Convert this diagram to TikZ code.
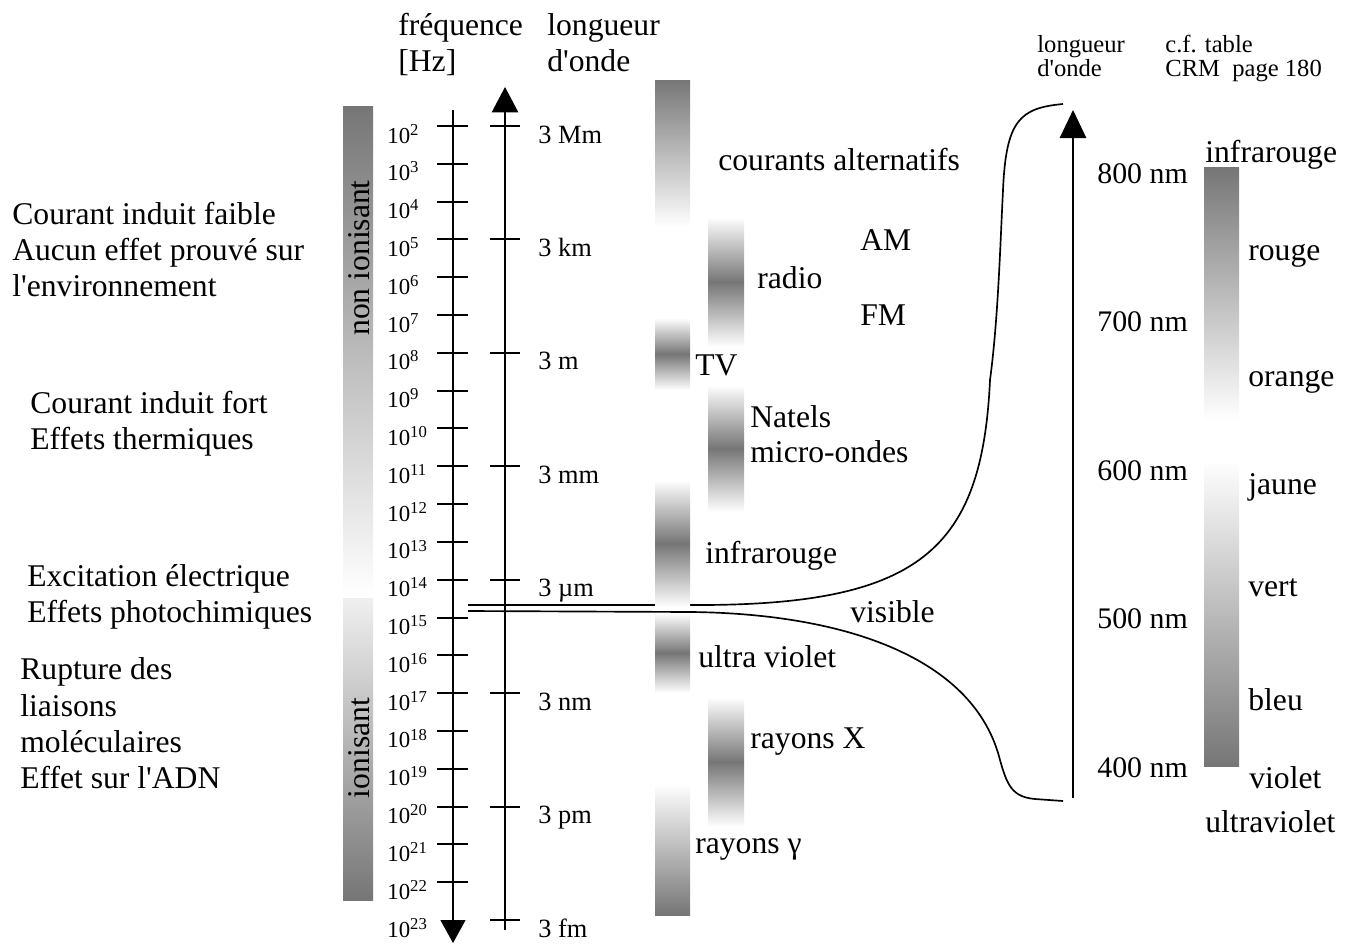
\documentclass[tikz,border=0pt]{standalone}
\usepackage{fontspec}
\setmainfont{Liberation Serif}
\newfontfamily\lib{Liberation Serif}
\usetikzlibrary{arrows.meta}
\definecolor{dk}{RGB}{118,118,118}
\newcommand\expo[1]{\raisebox{4.5pt}{\fontsize{9.5}{10}\selectfont #1}}
\begin{document}
\begin{tikzpicture}[x=0.02cm,y=-0.02cm,
  lbl/.style={font=\lib\fontsize{18}{20}\selectfont, anchor=base west, inner sep=0},
  sml/.style={font=\lib\fontsize{14}{15}\selectfont, anchor=base west, inner sep=0},
  exl/.style={font=\lib\fontsize{13}{14}\selectfont, anchor=base west, inner sep=0},
  wll/.style={font=\lib\fontsize{15}{16}\selectfont, anchor=base west, inner sep=0},
  nml/.style={font=\lib\fontsize{17}{18}\selectfont, anchor=base west, inner sep=0},
  axisline/.style={line width=1.15pt},
  curveline/.style={line width=0.95pt},
  band/.style={top color=white, bottom color=white, middle color=dk},
]
\useasboundingbox (0,0) rectangle (1354,943);

% ---- ionising bars (left)
\shade[top color=dk, bottom color=white] (343,106) rectangle (373,595);
\shade[top color=black!6, bottom color=dk] (343,598) rectangle (373,900);
\node[rotate=90, font=\lib\fontsize{18}{20}\selectfont, inner sep=0] (nonion) at (359,258) {non ionisant};
\node[rotate=90, font=\lib\fontsize{18}{20}\selectfont, inner sep=0] (ion) at (359,748) {ionisant};

% ---- headers
\node[lbl] (hfreq) at (398,35) {fréquence};
\node[lbl] (hhz) at (398,71) {[Hz]};
\node[lbl] (hlong) at (547,35) {longueur};
\node[lbl] (honde) at (547,71) {d'onde};

% ---- frequency axis
\draw[axisline,-{Triangle[length=13pt,width=14pt]}] (453,110) coordinate (ftop) -- (453,943) coordinate (fbot);
\foreach \n in {2,...,22} {
  \pgfmathsetmacro\yy{126+(\n-2)*37.81}
  \draw[axisline] (437,\yy) -- (468,\yy);
  \node[exl] (f\n) at (387,\yy+17) {10\expo{\n}};
}
\node[exl] (f23) at (387,937) {10\expo{23}};

% ---- wavelength axis
\draw[axisline,-{Triangle[length=14.5pt,width=15pt]}] (505,930) coordinate (wbot) -- (505,87) coordinate (wtop);
\foreach \n/\t in {2/3 Mm,5/3 km,8/3 m,11/3 mm,14/3 µm,17/3 nm,20/3 pm,23/3 fm} {
  \pgfmathsetmacro\yy{126+(\n-2)*37.81}
  \draw[axisline] (490,\yy) -- (520,\yy);
  \node[wll] (w\n) at (538,\yy+17) {\t};
}

% ---- left labels
\node[lbl] (l1) at (12,224) {Courant induit faible};
\node[lbl] (l2) at (12,260) {Aucun effet prouvé sur};
\node[lbl] (l3) at (12,296) {l'environnement};
\node[lbl] (l4) at (30,413) {Courant induit fort};
\node[lbl] (l5) at (30,449) {Effets thermiques};
\node[lbl] (l6) at (27,586) {Excitation électrique};
\node[lbl] (l7) at (27,622) {Effets photochimiques};
\node[lbl] (l8) at (20,679) {Rupture des};
\node[lbl] (l9) at (20,716) {liaisons};
\node[lbl] (l10) at (20,752) {moléculaires};
\node[lbl] (l11) at (20,788) {Effet sur l'ADN};

% ---- right axis
\coordinate (rtop) at (1063,104);
\coordinate (rbot) at (1063,801);
\draw[axisline,-{Triangle[length=16pt,width=15pt]}] (1073,798) coordinate (raxb) -- (1073,110) coordinate (raxt);

% ---- visible curves (behind bands)
\coordinate (vis1) at (468,605);
\coordinate (vis2) at (468,611);
\draw[curveline] (vis1) -- (692,605) .. controls (920,606) and (982,550) .. (990,380)
  .. controls (998,320) and (1000,250) .. (1003,190)
  .. controls (1006,120) and (1020,108) .. (rtop);
\draw[curveline] (vis2) -- (692,612) .. controls (850,614) and (975,660) .. (1000,760)
  .. controls (1007,785) and (1012,797) .. (1035,799) -- (rbot);

% ---- bands column 1
\shade[top color=dk, bottom color=white] (655,80) rectangle (690,227);
\shade[band] (655,318) rectangle (690,390);
\shade[band] (655,480) rectangle (690,607);
\shade[band] (655,613) rectangle (690,693);
\shade[top color=white, bottom color=dk] (655,783) rectangle (690,915);
% ---- bands column 2
\shade[band] (708,217) rectangle (744,347);
\shade[band] (708,385) rectangle (744,512);
\shade[band] (708,697) rectangle (744,827);

% ---- band labels
\node[lbl] (ca) at (718,170) {courants alternatifs};
\node[lbl] (am) at (860,250) {AM};
\node[lbl] (radio) at (757,288) {radio};
\node[lbl] (fm) at (860,325) {FM};
\node[lbl] (tv) at (695,375) {TV};
\node[lbl] (natels) at (750,427) {Natels};
\node[lbl] (micro) at (750,462) {micro-ondes};
\node[lbl] (ir) at (705,563) {infrarouge};
\node[lbl] (vis) at (850,622) {visible};
\node[lbl] (uv) at (698,667) {ultra violet};
\node[lbl] (rx) at (750,748) {rayons X};
\node[lbl] (rg) at (695,853) {rayons γ};

% ---- right header
\node[sml] (rl1) at (1037,52) {longueur};
\node[sml] (rl2) at (1037,76) {d'onde};
\node[sml] (rc1) at (1165,52) {c.f. table};
\node[sml] (rc2) at (1165,76) {CRM\ \ page 180};

% ---- nm labels
\node[nml] (n800) at (1097,183) {800 nm};
\node[nml] (n700) at (1097,331.5) {700 nm};
\node[nml] (n600) at (1097,480) {600 nm};
\node[nml] (n500) at (1097,628.5) {500 nm};
\node[nml] (n400) at (1097,777) {400 nm};

% ---- colour bar
\shade[top color=dk, bottom color=white] (1204,167) rectangle (1239,420);
\shade[top color=white, bottom color=dk] (1204,460) rectangle (1239,766);
\node[lbl] (cinfra) at (1205,162) {infrarouge};
\node[lbl] (crouge) at (1248,260) {rouge};
\node[lbl] (corange) at (1248,386) {orange};
\node[lbl] (cjaune) at (1248,494) {jaune};
\node[lbl] (cvert) at (1248,596) {vert};
\node[lbl] (cbleu) at (1248,710) {bleu};
\node[lbl] (cviolet) at (1249,788) {violet};
\node[lbl] (cuv) at (1205,832) {ultraviolet};
\end{tikzpicture}
\end{document}
